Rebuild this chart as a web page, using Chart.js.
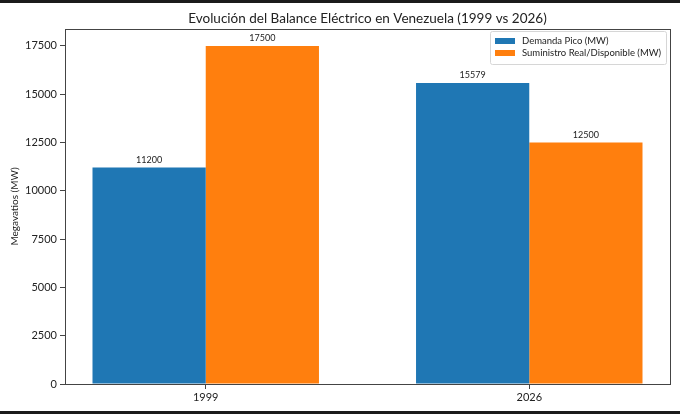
<!DOCTYPE html>
<html lang="es">
<head>
  <meta charset="UTF-8" />
  <title>Balance Eléctrico Venezuela</title>
  <style>
    html, body {
      margin: 0;
      padding: 0;
      background-color: #1b1b1b;
    }
    #wrap {
      position: absolute;
      left: 0;
      top: 3px;
      width: 680px;
      height: 408px;
      background: #ffffff;
    }
  </style>
  <script src="https://cdn.jsdelivr.net/npm/chart.js@4"></script>
</head>
<body>
  <div id="wrap">
    <canvas id="chart" width="680" height="408"></canvas>
  </div>

  <script>
    const years = ['1999', '2026'];
    const demanda = [11200, 15579];
    const suministro = [17500, 12500];
    const seriesNames = ['Demanda Pico (MW)', 'Suministro Real/Disponible (MW)'];
    const seriesColors = ['#1f77b4', '#ff7f0e'];
    const yTicks = [0, 2500, 5000, 7500, 10000, 12500, 15000, 17500];
    const chartTitle = 'Evolución del Balance Eléctrico en Venezuela (1999 vs 2026)';

    const FONT = 'Lato, "Open Sans", sans-serif';
    const INK = '#222222';

    // title centred over the plot box, not the whole canvas
    const axesTitle = {
      id: 'axesTitle',
      afterDraw(chart) {
        const { ctx, chartArea: a } = chart;
        ctx.save();
        ctx.font = '13.5px ' + FONT;
        ctx.fillStyle = INK;
        ctx.textAlign = 'center';
        ctx.textBaseline = 'middle';
        ctx.fillText(chartTitle, (a.left + a.right) / 2, a.top - 10);
        ctx.restore();
      }
    };

    // spines all round, like the original plot
    const frame = {
      id: 'frame',
      afterDatasetsDraw(chart) {
        const { ctx, chartArea: a } = chart;
        ctx.save();
        ctx.strokeStyle = '#444';
        ctx.lineWidth = 1;
        ctx.strokeRect(Math.round(a.left) + 0.5, Math.round(a.top) + 0.5,
          Math.round(a.right - a.left), Math.round(a.bottom - a.top));
        ctx.restore();
      }
    };

    // numbers on top of each bar
    const barLabels = {
      id: 'barLabels',
      afterDatasetsDraw(chart) {
        const ctx = chart.ctx;
        ctx.save();
        ctx.font = '9px ' + FONT;
        ctx.fillStyle = INK;
        ctx.textAlign = 'center';
        ctx.textBaseline = 'bottom';
        chart.data.datasets.forEach((ds, i) => {
          chart.getDatasetMeta(i).data.forEach((bar, j) => {
            ctx.fillText(String(ds.data[j].y), bar.x, bar.y - 3);
          });
        });
        ctx.restore();
      }
    };

    // boxed legend in the upper right corner of the plot
    const boxLegend = {
      id: 'boxLegend',
      afterDraw(chart) {
        const ctx = chart.ctx;
        const a = chart.chartArea;
        const w = 176, h = 33;
        const x = a.right - 4 - w, y = a.top + 2;
        ctx.save();
        ctx.beginPath();
        ctx.roundRect(x + 0.5, y + 0.5, w, h, 2);
        ctx.fillStyle = 'rgba(255,255,255,0.85)';
        ctx.fill();
        ctx.strokeStyle = '#d6d6d6';
        ctx.lineWidth = 1;
        ctx.stroke();
        ctx.font = '9.5px ' + FONT;
        ctx.textBaseline = 'middle';
        chart.data.datasets.forEach((ds, i) => {
          const cy = y + 10 + i * 12;
          ctx.fillStyle = ds.backgroundColor;
          ctx.fillRect(x + 5, cy - 3, 20, 6);
          ctx.fillStyle = INK;
          ctx.fillText(ds.label, x + 32, cy);
        });
        ctx.restore();
      }
    };

    const ctx = document.getElementById('chart').getContext('2d');
    new Chart(ctx, {
      type: 'bar',
      data: {
        datasets: [
          {
            label: seriesNames[0],
            data: demanda.map((v, i) => ({ x: i, y: v })),
            backgroundColor: seriesColors[0]
          },
          {
            label: seriesNames[1],
            data: suministro.map((v, i) => ({ x: i, y: v })),
            backgroundColor: seriesColors[1]
          }
        ]
      },
      options: {
        responsive: false,
        animation: false,
        devicePixelRatio: 1,
        categoryPercentage: 0.7,
        barPercentage: 1.0,
        layout: { padding: { left: 0, right: 10, top: 26, bottom: 0 } },
        plugins: {
          legend: { display: false },
          tooltip: { enabled: false },
          title: { display: false }
        },
        scales: {
          x: {
            type: 'linear',
            offset: false,
            min: -0.435,
            max: 1.435,
            afterBuildTicks: s => { s.ticks = years.map((_, i) => ({ value: i })); },
            afterFit: s => { s.height = 27; },
            ticks: {
              autoSkip: false,
              maxRotation: 0,
              padding: 2,
              color: INK,
              font: { family: FONT, size: 11 },
              callback: v => years[v] ?? ''
            },
            grid: { offset: false, drawOnChartArea: false, drawTicks: true, tickLength: 5, color: '#444' },
            border: { display: true, color: '#444' }
          },
          y: {
            min: 0,
            max: 18375,
            afterBuildTicks: s => { s.ticks = yTicks.map(v => ({ value: v })); },
            afterFit: s => { s.width = 65; },
            ticks: {
              padding: 3,
              color: INK,
              font: { family: FONT, size: 11 },
              callback: v => String(v)
            },
            grid: { drawOnChartArea: false, drawTicks: true, tickLength: 5, color: '#444' },
            border: { display: true, color: '#444' },
            title: {
              display: true,
              text: 'Megavatios (MW)',
              color: INK,
              font: { family: FONT, size: 10 },
              padding: { top: 9, bottom: 0 }
            }
          }
        }
      },
      plugins: [frame, barLabels, boxLegend, axesTitle]
    });
  </script>
</body>
</html>
